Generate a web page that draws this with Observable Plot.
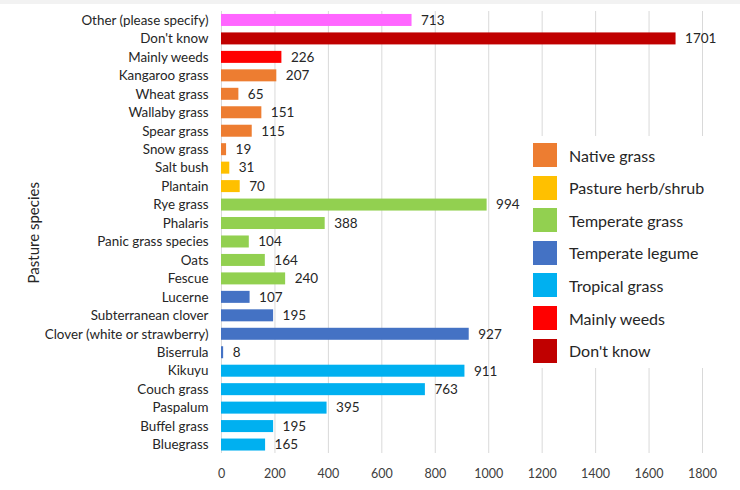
<!DOCTYPE html>
<html>
<head>
<meta charset="utf-8">
<script src="https://cdn.jsdelivr.net/npm/d3@7"></script>
<script src="https://cdn.jsdelivr.net/npm/@observablehq/plot@0.6"></script>
<style>
  html, body { margin: 0; padding: 0; background: #fff; }
  #wrap { position: relative; width: 740px; height: 490px; overflow: hidden; font-family: Lato, "Open Sans", sans-serif; }
  #chart svg { display: block; }
  #stripe { position: absolute; left: 0; top: 0; width: 740px; height: 4px; background: #f2f2f2; }
  #legend { position: absolute; left: 520px; top: 136px; width: 210px; height: 232px; background: #fff; }
  .item { position: absolute; left: 13px; height: 24px; display: flex; align-items: center; }
  .sw { width: 24px; height: 24px; margin-right: 12px; }
  .lab { font-size: 16px; color: #262626; white-space: nowrap; }
</style>
</head>
<body>
<div id="wrap">
  <div id="chart"></div>
  <div id="stripe"></div>
  <div id="legend"></div>
</div>
<script>
const species = [
  "Other (please specify)", "Don't know", "Mainly weeds", "Kangaroo grass", "Wheat grass",
  "Wallaby grass", "Spear grass", "Snow grass", "Salt bush", "Plantain",
  "Rye grass", "Phalaris", "Panic grass species", "Oats", "Fescue",
  "Lucerne", "Subterranean clover", "Clover (white or strawberry)", "Biserrula", "Kikuyu",
  "Couch grass", "Paspalum", "Buffel grass", "Bluegrass"
];
const counts = [
  713, 1701, 226, 207, 65,
  151, 115, 19, 31, 70,
  994, 388, 104, 164, 240,
  107, 195, 927, 8, 911,
  763, 395, 195, 165
];
const groups = [
  "Other", "Don't know", "Mainly weeds", "Native grass", "Native grass",
  "Native grass", "Native grass", "Native grass", "Pasture herb/shrub", "Pasture herb/shrub",
  "Temperate grass", "Temperate grass", "Temperate grass", "Temperate grass", "Temperate grass",
  "Temperate legume", "Temperate legume", "Temperate legume", "Temperate legume", "Tropical grass",
  "Tropical grass", "Tropical grass", "Tropical grass", "Tropical grass"
];
const groupNames = ["Native grass", "Pasture herb/shrub", "Temperate grass", "Temperate legume", "Tropical grass", "Mainly weeds", "Don't know", "Other"];
const groupColors = ["#ED7D31", "#FFC000", "#92D050", "#4472C4", "#00B0F0", "#FF0000", "#C00000", "#FF66FF"];
const legendGroups = groupNames.slice(0, 7);
const xTicks = [0, 200, 400, 600, 800, 1000, 1200, 1400, 1600, 1800];

const data = species.map((s, i) => ({species: s, count: counts[i], group: groups[i]}));
const colorOf = new Map(groupNames.map((g, i) => [g, groupColors[i]]));

const chart = Plot.plot({
  width: 740,
  height: 490,
  marginLeft: 221,
  marginRight: 38,
  marginTop: 7.5,
  marginBottom: 33,
  style: {fontFamily: "Lato, 'Open Sans', sans-serif", background: "#fff"},
  x: {domain: [0, 1800], ticks: xTicks},
  y: {domain: species, padding: 0.35, round: false},
  color: {domain: groupNames, range: groupColors},
  marks: [
    Plot.ruleX(xTicks, {stroke: "#d9d9d9", strokeWidth: 1, insetTop: 3.5, insetBottom: 4}),
    Plot.barX(data, {x: "count", y: "species", fill: "group"}),
    Plot.text(data, {x: "count", y: "species", text: d => String(d.count), dx: 9, textAnchor: "start", fontSize: 13.5, fill: "#262626"}),
    Plot.axisY({tickSize: 0, tickPadding: 13, fontSize: 13.4, color: "#262626", label: "Pasture species", labelAnchor: "center", labelOffset: 193}),
    Plot.axisX({ticks: xTicks, tickSize: 0, tickPadding: 12, fontSize: 12.5, color: "#404040", label: null, tickFormat: d => String(d)})
  ]
});
chart.querySelectorAll("g[aria-label='y-axis label']").forEach(g => {
  g.setAttribute("font-size", "15");
  g.querySelectorAll("text").forEach(t => t.setAttribute("font-size", "15"));
});
document.getElementById("chart").appendChild(chart);

const legend = document.getElementById("legend");
legendGroups.forEach((g, i) => {
  const item = document.createElement("div");
  item.className = "item";
  item.style.top = (7 + i * 32.6) + "px";
  const sw = document.createElement("div");
  sw.className = "sw";
  sw.style.background = colorOf.get(g);
  const lab = document.createElement("div");
  lab.className = "lab";
  lab.textContent = g;
  item.appendChild(sw);
  item.appendChild(lab);
  legend.appendChild(item);
});
</script>
</body>
</html>
